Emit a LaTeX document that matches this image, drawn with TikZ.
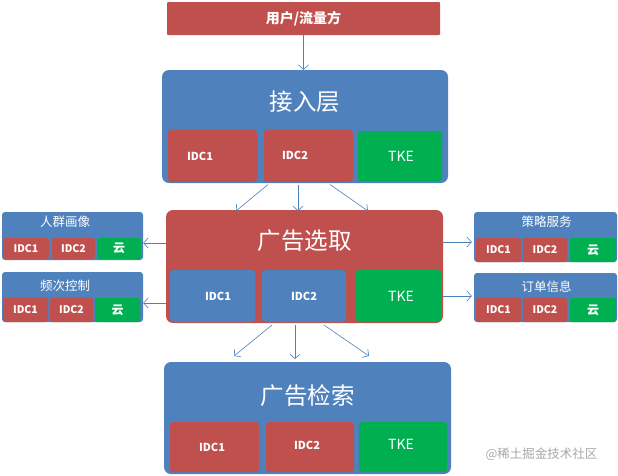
\documentclass[tikz,border=0pt]{standalone}
\usepackage{fontspec}
\setmainfont{Noto Sans CJK SC}
\usetikzlibrary{arrows.meta}
\definecolor{cred}{HTML}{C0504D}
\definecolor{cblue}{HTML}{4F81BD}
\definecolor{cgreen}{HTML}{00B050}
\definecolor{cgray}{HTML}{A8A8A8}
\tikzset{
  box/.style={inner sep=0pt, rounded corners=#1},
  box/.default=6pt,
  redbox/.style={box=#1, fill=cred},
  redbox/.default=3pt,
  bluebox/.style={box=#1, fill=cblue},
  bluebox/.default=3pt,
  greenbox/.style={box=#1, fill=cgreen},
  greenbox/.default=3pt,
  title/.style={text=white, font=\fontsize{23.5}{26}\selectfont},
  stitle/.style={text=white, font=\fontsize{12.5}{14}\selectfont},
  idc/.style={text=white, font=\bfseries\fontsize{11}{12}\selectfont},
  tke/.style={text=white, font=\fontsize{14}{16}\selectfont},
  sidc/.style={text=white, font=\bfseries\fontsize{10.5}{12}\selectfont},
  yun/.style={text=white, font=\bfseries\fontsize{12}{13}\selectfont},
  arr/.style={draw=cblue, line width=0.6pt, -{Straight Barb[length=4.5pt,width=10pt]}},
}
\begin{document}
\begin{tikzpicture}[x=1pt,y=-1pt]
\useasboundingbox[fill=white] (0,0) rectangle (618,475);

% top
\node[redbox=1pt, minimum width=273pt, minimum height=33pt, text=white, font=\bfseries\fontsize{14}{16}\selectfont] (user) at (303.5,18.5) {用户/流量方};

% access layer
\node[bluebox=7pt, minimum width=286pt, minimum height=113pt] (access) at (305,126.5) {};
\node[title] (accessT) at (305,102) {接入层};
\node[redbox, minimum width=89pt, minimum height=52pt] (a1) at (212.5,156) {};
\node[redbox, minimum width=89pt, minimum height=52pt] (a2) at (308.5,156) {};
\node[greenbox, minimum width=84pt, minimum height=50pt] (a3) at (400,156) {};
\node[idc] (a1t) at (200,156) {IDC1};
\node[idc] (a2t) at (295,155) {IDC2};
\node[tke] (a3t) at (401,156) {TKE};

% select
\node[redbox=7pt, minimum width=277pt, minimum height=113pt] (select) at (304.5,266.5) {};
\node[title] (selectT) at (304.5,241) {广告选取};
\node[bluebox, minimum width=85pt, minimum height=52pt] (s1) at (212.5,296) {};
\node[bluebox, minimum width=84pt, minimum height=52pt] (s2) at (304,296) {};
\node[greenbox, minimum width=85pt, minimum height=52pt] (s3) at (398.5,296) {};
\node[idc] (s1t) at (218,296) {IDC1};
\node[idc] (s2t) at (304,296) {IDC2};
\node[tke] (s3t) at (401,296) {TKE};

% retrieve
\node[bluebox=7pt, minimum width=287pt, minimum height=112pt] (retr) at (307.5,418) {};
\node[title] (retrT) at (307.5,396) {广告检索};
\node[redbox, minimum width=89pt, minimum height=50pt] (r1) at (214.5,447) {};
\node[redbox, minimum width=88pt, minimum height=50pt] (r2) at (310,447) {};
\node[greenbox, minimum width=88pt, minimum height=50pt] (r3) at (403,447) {};
\node[idc] (r1t) at (212,447) {IDC1};
\node[idc] (r2t) at (307,445) {IDC2};
\node[tke] (r3t) at (401,444) {TKE};

% left side boxes
\node[bluebox, minimum width=141pt, minimum height=48pt] (L1) at (72.5,236) {};
\node[stitle] (L1t) at (65,222) {人群画像};
\node[redbox=2pt, minimum width=46pt, minimum height=21pt] (L1a) at (26,248.5) {};
\node[redbox=2pt, minimum width=43pt, minimum height=21pt] (L1b) at (73.5,248.5) {};
\node[greenbox=2pt, minimum width=44pt, minimum height=21pt] (L1c) at (119,248.5) {};
\node[sidc] at (L1a) {IDC1};
\node[sidc] at (L1b) {IDC2};
\node[yun] at (L1c) {云};

\node[bluebox, minimum width=141pt, minimum height=50pt] (L2) at (72.5,297) {};
\node[stitle] (L2t) at (65,286) {频次控制};
\node[redbox=2pt, minimum width=45pt, minimum height=24pt] (L2a) at (25.5,310) {};
\node[redbox=2pt, minimum width=43pt, minimum height=24pt] (L2b) at (71.5,310) {};
\node[greenbox=2pt, minimum width=45pt, minimum height=24pt] (L2c) at (117.5,310) {};
\node[sidc] at (L2a) {IDC1};
\node[sidc] at (L2b) {IDC2};
\node[yun] at (L2c) {云};

% right side boxes
\node[bluebox, minimum width=143pt, minimum height=50pt] (R1) at (545.5,237) {};
\node[stitle] (R1t) at (546.5,222) {策略服务};
\node[redbox=2pt, minimum width=45pt, minimum height=24pt] (R1a) at (498.5,250) {};
\node[redbox=2pt, minimum width=44pt, minimum height=24pt] (R1b) at (545,250) {};
\node[greenbox=2pt, minimum width=46pt, minimum height=24pt] (R1c) at (593,250) {};
\node[sidc] at (R1a) {IDC1};
\node[sidc] at (R1b) {IDC2};
\node[yun] at (R1c) {云};

\node[bluebox, minimum width=143pt, minimum height=49pt] (R2) at (545.5,297.5) {};
\node[stitle] (R2t) at (546.5,287) {订单信息};
\node[redbox=2pt, minimum width=45pt, minimum height=24pt] (R2a) at (498.5,310) {};
\node[redbox=2pt, minimum width=44pt, minimum height=24pt] (R2b) at (545,310) {};
\node[greenbox=2pt, minimum width=46pt, minimum height=24pt] (R2c) at (593,310) {};
\node[sidc] at (R2a) {IDC1};
\node[sidc] at (R2b) {IDC2};
\node[yun] at (R2c) {云};

% arrows
\draw[arr] (user.south) -- (user.south |- access.north);
\coordinate (b1) at (268,184.5);
\coordinate (b2) at (298,184.5);
\coordinate (b3) at (330,184.5);
\coordinate (t1) at (236,211);
\coordinate (t2) at (298,211);
\coordinate (t3) at (368,211);
\draw[arr] (b1) -- (t1);
\draw[arr] (b2) -- (t2);
\draw[arr] (b3) -- (t3);

\coordinate (c1) at (272,325);
\coordinate (c2) at (295,325);
\coordinate (c3) at (324,325);
\coordinate (d1) at (234,356);
\coordinate (d2) at (295,359);
\coordinate (d3) at (369,356);
\draw[arr] (c1) -- (d1);
\draw[arr] (c2) -- (d2);
\draw[arr] (c3) -- (d3);

\draw[arr] (select.west |- 0,243) -- (L1.east |- 0,243);
\draw[arr] (select.west |- 0,303) -- (L2.east |- 0,303);
\draw[arr] (select.east |- 0,242) -- ([xshift=-2pt]R1.west |- 0,242);
\draw[arr] (select.east |- 0,296) -- ([xshift=-2pt]R2.west |- 0,296);

% watermark
\node[text=cgray, font=\fontsize{12.5}{14}\selectfont, anchor=east] (wm) at (601,454) {@稀土掘金技术社区};
\end{tikzpicture}
\end{document}
